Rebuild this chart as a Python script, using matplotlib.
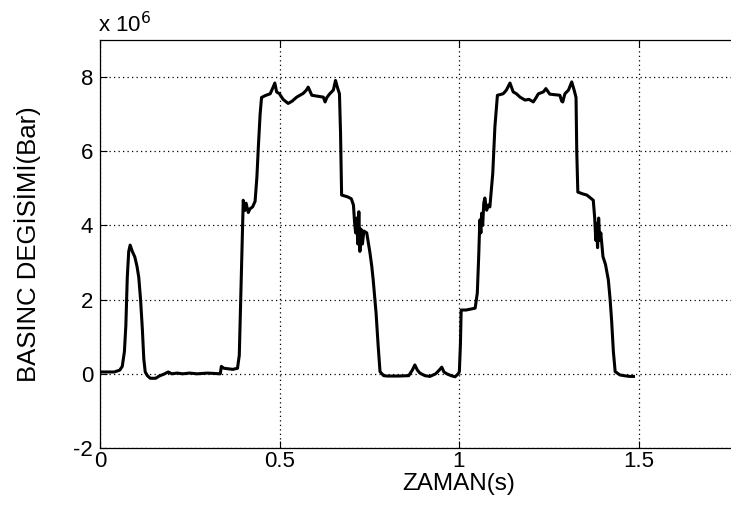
import numpy as np
import matplotlib as mpl
import matplotlib.pyplot as plt

mpl.rcParams['font.family'] = ['Liberation Sans', 'DejaVu Sans']
mpl.rcParams['axes.unicode_minus'] = False

# Pressure trace, values in units of 1e6 bar
time_s = [0.0, 0.04, 0.055, 0.062, 0.068, 0.072, 0.076, 0.080, 0.084, 0.090,
          0.097, 0.103, 0.108, 0.113, 0.118, 0.122, 0.126, 0.132, 0.140, 0.155,
          0.165, 0.18, 0.19, 0.20, 0.215, 0.23, 0.25, 0.27, 0.30, 0.335,
          0.338, 0.345, 0.37, 0.383, 0.388, 0.392, 0.396, 0.399, 0.403, 0.407,
          0.413, 0.418, 0.425, 0.432, 0.437, 0.441, 0.446, 0.450, 0.46, 0.474,
          0.481, 0.487, 0.492, 0.50, 0.51, 0.524, 0.535, 0.548, 0.566, 0.575,
          0.58, 0.59, 0.61, 0.622, 0.627, 0.632, 0.64, 0.65, 0.656, 0.662,
          0.667, 0.670, 0.673, 0.69, 0.70, 0.706, 0.709, 0.712, 0.715, 0.718,
          0.721, 0.724, 0.727, 0.731, 0.735, 0.743, 0.748, 0.752, 0.757, 0.761,
          0.769, 0.775, 0.780, 0.79, 0.80, 0.83, 0.86, 0.87, 0.877, 0.884,
          0.891, 0.905, 0.919, 0.935, 0.945, 0.952, 0.958, 0.966, 0.978, 0.989,
          0.998, 1.001, 1.004, 1.006, 1.02, 1.035, 1.045, 1.051, 1.055, 1.058,
          1.061, 1.063, 1.066, 1.069, 1.072, 1.077, 1.082, 1.086, 1.094, 1.100,
          1.107, 1.123, 1.132, 1.142, 1.151, 1.16, 1.17, 1.184, 1.195, 1.207,
          1.215, 1.221, 1.235, 1.242, 1.253, 1.27, 1.281, 1.286, 1.289, 1.295,
          1.305, 1.314, 1.321, 1.326, 1.328, 1.331, 1.345, 1.356, 1.365, 1.374,
          1.378, 1.381, 1.383, 1.386, 1.389, 1.392, 1.395, 1.401, 1.408, 1.416,
          1.421, 1.425, 1.430, 1.435, 1.448, 1.46, 1.475, 1.486]
pressure = [0.05, 0.05, 0.1, 0.2, 0.6, 1.3, 2.6, 3.3, 3.47, 3.3,
            3.15, 2.9, 2.6, 2.0, 1.2, 0.4, 0.05, -0.05, -0.12, -0.12,
            -0.06, 0.0, 0.05, 0.0, 0.02, 0.0, 0.02, 0.0, 0.02, 0.0,
            0.2, 0.15, 0.12, 0.15, 0.5, 2.0, 3.5, 4.68, 4.4, 4.6,
            4.35, 4.45, 4.5, 4.65, 5.3, 6.1, 7.0, 7.45, 7.5, 7.55,
            7.7, 7.84, 7.6, 7.55, 7.4, 7.29, 7.35, 7.46, 7.56, 7.65,
            7.73, 7.51, 7.48, 7.46, 7.33, 7.45, 7.55, 7.65, 7.91, 7.7,
            7.55, 6.5, 4.82, 4.77, 4.72, 4.55, 4.1, 3.8, 4.2, 3.5,
            4.37, 3.3, 3.9, 3.5, 3.85, 3.8, 3.5, 3.26, 2.9, 2.53,
            1.64, 0.73, 0.06, -0.05, -0.06, -0.06, -0.05, 0.1, 0.24, 0.1,
            0.02, -0.05, -0.07, 0.0, 0.1, 0.18, 0.05, 0.0, -0.05, -0.08,
            0.0, 0.06, 0.8, 1.72, 1.72, 1.75, 1.77, 2.18, 3.2, 4.15,
            3.8, 4.33, 4.0, 4.6, 4.74, 4.41, 4.55, 4.5, 5.4, 6.66,
            7.51, 7.55, 7.65, 7.84, 7.6, 7.55, 7.46, 7.38, 7.4, 7.33,
            7.45, 7.55, 7.6, 7.69, 7.54, 7.52, 7.51, 7.35, 7.33, 7.55,
            7.65, 7.87, 7.64, 7.45, 6.0, 4.9, 4.85, 4.82, 4.75, 4.68,
            4.2, 3.6, 4.06, 3.4, 4.2, 3.6, 3.8, 3.16, 2.95, 2.53,
            2.0, 1.45, 0.6, 0.06, -0.03, -0.05, -0.07, -0.07]

xticks = [0, 0.5, 1, 1.5]
xticklabels = ["0", "0.5", "1", "1.5"]
yticks = [-2, 0, 2, 4, 6, 8]

fig = plt.figure(figsize=(7.31, 5.12), dpi=100)
# axes runs off the right edge like the original screenshot
ax = fig.add_axes([100 / 731, 64 / 512, 718 / 731, 408 / 512])

ax.plot(time_s, pressure, color="black", lw=2.2)

ax.set_xlim(0, 2)
ax.set_ylim(-2, 9)
ax.set_xticks(xticks)
ax.set_xticklabels(xticklabels)
ax.set_yticks(yticks)

ax.grid(True, color="black", linestyle=(0, (1, 2.6)), linewidth=0.9)
ax.tick_params(direction="in", top=True, right=True, labelsize=16, length=5,
               width=0.8)
ax.tick_params(axis="y", pad=5)
ax.tick_params(axis="x", pad=2)
for sp in ax.spines.values():
    sp.set_linewidth(0.9)

ax.set_xlabel("ZAMAN(s)", fontsize=17.5, labelpad=1)
ax.set_ylabel("BASINC DEGİSİMİ(Bar)", fontsize=18.5, labelpad=23)

fig.text(98 / 731, 1 - 32 / 512, "x 10$^{6}$", fontsize=16, ha="left",
         va="baseline")

fig.savefig("out.png", dpi=100)
